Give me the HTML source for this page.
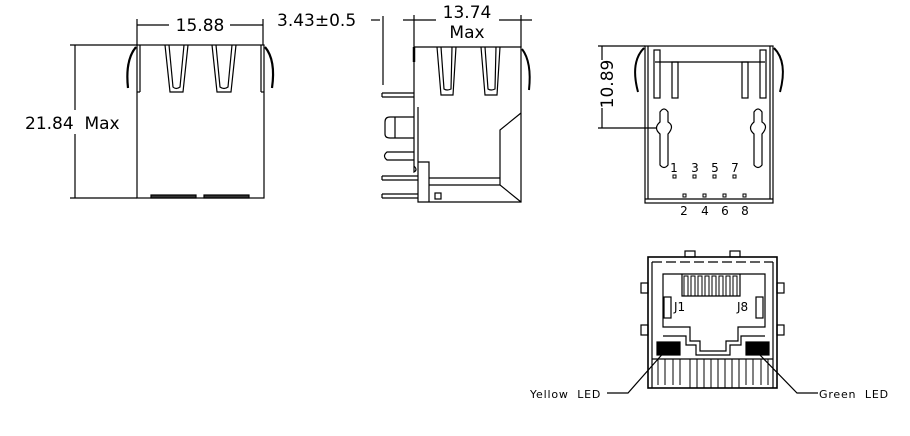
<!DOCTYPE html>
<html><head><meta charset="utf-8"><style>
html,body{margin:0;padding:0;background:#fff;}
svg{display:block;}
text{font-family:"DejaVu Sans","Liberation Sans",sans-serif;fill:#000;}
</style></head><body>
<svg width="910" height="436" viewBox="0 0 910 436" fill="none" stroke="#000" stroke-width="1.2">
<!-- View 1 -->
<text x="200" y="31" font-size="17" text-anchor="middle" stroke="none">15.88</text>
<line x1="137" y1="19" x2="137" y2="45"/><line x1="263" y1="19" x2="263" y2="45"/>
<line x1="137" y1="25" x2="169" y2="25"/><line x1="230" y1="25" x2="263" y2="25"/>
<line x1="70" y1="45" x2="137" y2="45"/><line x1="70" y1="198" x2="137" y2="198"/>
<line x1="75" y1="45" x2="75" y2="110"/><line x1="75" y1="134" x2="75" y2="198"/>
<text x="25" y="129" font-size="17" stroke="none" xml:space="preserve">21.84  Max</text>
<rect x="137" y="45" width="127" height="153"/>
<line x1="140" y1="45" x2="140" y2="92"/><line x1="261" y1="45" x2="261" y2="92"/>
<line x1="137" y1="92" x2="140" y2="92"/><line x1="261" y1="92" x2="264" y2="92"/>
<path d="M165 45 L170 92 L183 92 L188 45 M169 45 L173 87 Q176 90 180 87 L184 45"/>
<path d="M212 45 L217 92 L231 92 L236 45 M216 45 L220 87 Q224 90 228 87 L232 45"/>
<path d="M136 47 Q125 60 128 88" stroke-width="2.2"/>
<path d="M265 47 Q276 60 272 88" stroke-width="2.2"/>
<rect x="151" y="195" width="45" height="3" fill="#333"/><rect x="204" y="195" width="45" height="3" fill="#333"/>
<!-- View 2 -->
<text x="277" y="26" font-size="17" stroke="none">3.43±0.5</text>
<line x1="371" y1="20" x2="380" y2="20"/><line x1="383" y1="16" x2="383" y2="85"/>
<text x="467" y="18" font-size="17" text-anchor="middle" stroke="none">13.74</text>
<text x="467" y="38" font-size="17" text-anchor="middle" stroke="none">Max</text>
<line x1="403" y1="20" x2="436" y2="20"/><line x1="499" y1="20" x2="532" y2="20"/>
<line x1="414" y1="15" x2="414" y2="47"/><line x1="521" y1="15" x2="521" y2="47"/>
<path d="M414 47 L521 47 L521 202 L418 202 L418 107"/>
<line x1="414" y1="47" x2="414" y2="160"/>
<path d="M414 47 L414 62" stroke-width="2.5"/>
<path d="M437 47 L441 95 L453 95 L456 47 M441 47 L444 89 Q447 91 451 89 L452 47"/>
<path d="M481 47 L485 95 L497 95 L500 47 M485 47 L488 89 Q491 91 495 89 L496 47"/>
<path d="M522 49 Q532 62 529 90" stroke-width="2"/>
<path d="M382 93 L414 93 M382 97 L414 97 M382 93 L382 97"/>
<path d="M414 117 L390 117 Q385 117 385 122 L385 134 Q385 138 390 138 L414 138 M395 117 L395 138"/>
<path d="M414 152 L387 152 Q382 156 387 160 L414 160"/>
<path d="M414 160 L414 166 Q418 170 414 172 L414 165"/>
<path d="M418 162 L429 162 L429 202"/>
<path d="M382 176 L418 176 M382 180 L418 180 M382 194 L418 194 M382 198 L418 198 M382 176 L382 180 M382 194 L382 198"/>
<path d="M429 178 L500 178 M429 185 L500 185"/>
<path d="M521 113 L500 130 L500 185 L521 202"/>
<rect x="435" y="193" width="6" height="6"/>
<!-- View 3 -->
<rect x="645" y="46" width="128" height="157"/>
<line x1="648" y1="46" x2="648" y2="199"/><line x1="770" y1="46" x2="770" y2="199"/>
<line x1="645" y1="199" x2="773" y2="199"/>
<line x1="655" y1="62" x2="765" y2="62"/>
<rect x="654" y="50" width="6" height="48"/><rect x="672" y="62" width="6" height="36"/>
<rect x="742" y="62" width="6" height="36"/><rect x="760" y="50" width="6" height="48"/>
<path d="M660 112 Q664 106 668 112 L668 122 Q675 126 668 134 L668 165 Q664 170 660 165 L660 134 Q653 128 660 122 Z"/>
<path d="M754 112 Q758 106 762 112 L762 122 Q769 126 762 134 L762 165 Q758 170 754 165 L754 134 Q747 128 754 122 Z"/>
<path d="M644 48 Q630 62 638 92" stroke-width="2"/><path d="M774 48 Q788 62 780 92" stroke-width="2"/>
<line x1="598" y1="46" x2="645" y2="46"/><line x1="598" y1="128" x2="656" y2="128"/>
<line x1="602" y1="46" x2="602" y2="60"/><line x1="602" y1="108" x2="602" y2="128"/>
<text transform="translate(613,84) rotate(-90)" font-size="17" text-anchor="middle" stroke="none">10.89</text>
<g stroke="none" font-size="12" text-anchor="middle">
<text x="674" y="172">1</text><text x="695" y="172">3</text><text x="715" y="172">5</text><text x="735" y="172">7</text>
<text x="684" y="215">2</text><text x="705" y="215">4</text><text x="725" y="215">6</text><text x="745" y="215">8</text>
</g>
<g stroke-width="1">
<rect x="673" y="175" width="3" height="3"/><rect x="693" y="175" width="3" height="3"/><rect x="713" y="175" width="3" height="3"/><rect x="733" y="175" width="3" height="3"/>
<rect x="683" y="194" width="3" height="3"/><rect x="703" y="194" width="3" height="3"/><rect x="723" y="194" width="3" height="3"/><rect x="743" y="194" width="3" height="3"/>
</g>
<!-- View 4 -->
<rect x="648" y="257" width="129" height="131" stroke-width="1.6"/>
<line x1="652" y1="262" x2="652" y2="388"/><line x1="773" y1="262" x2="773" y2="388"/>
<line x1="652" y1="262" x2="773" y2="262" stroke-dasharray="10 4"/>
<rect x="685" y="251" width="10" height="6"/><rect x="730" y="251" width="10" height="6"/>
<rect x="641" y="283" width="7" height="10"/><rect x="641" y="325" width="7" height="10"/>
<rect x="777" y="283" width="7" height="10"/><rect x="777" y="325" width="7" height="10"/>
<path d="M663 327 L663 274 L765 274 L765 327 L738 327 L738 341 L726 341 L726 351 L700 351 L700 341 L690 341 L690 327 Z"/>
<path d="M663 336 L686 336 L686 345 L696 345 L696 355 L730 355 L730 345 L741 345 L741 336 L765 336"/>
<path d="M682 274 L682 296 L740 296 L740 274"/>
<g stroke-width="1"><rect x="684" y="276" width="4" height="20"/><rect x="691" y="276" width="4" height="20"/><rect x="698" y="276" width="4" height="20"/><rect x="705" y="276" width="4" height="20"/><rect x="712" y="276" width="4" height="20"/><rect x="719" y="276" width="4" height="20"/><rect x="726" y="276" width="4" height="20"/><rect x="733" y="276" width="4" height="20"/></g>
<rect x="664" y="297" width="7" height="21"/><rect x="756" y="297" width="7" height="21"/>
<text x="674" y="311" font-size="12" stroke="none">J1</text>
<text x="737" y="311" font-size="12" stroke="none">J8</text>
<rect x="657" y="342" width="23" height="13" fill="#000"/><rect x="746" y="342" width="23" height="13" fill="#000"/>
<line x1="652" y1="359" x2="773" y2="359"/>
<g stroke-width="1">
<path d="M658 359 L658 385 M665 359 L665 385 M673 359 L673 385 M680 359 L680 385 M690 359 L690 388 M697 359 L697 388 M704 359 L704 388 M711 359 L711 388 M718 359 L718 388 M725 359 L725 388 M732 359 L732 388 M739 359 L739 388 M746 359 L746 385 M753 359 L753 385 M761 359 L761 385 M768 359 L768 385"/>
</g>
<path d="M607 393 L628 393 L666 350"/>
<path d="M818 393 L797 393 L757 352"/>
<text x="530" y="398" font-size="11" letter-spacing="0.8" stroke="none" xml:space="preserve">Yellow  LED</text>
<text x="819" y="398" font-size="11" letter-spacing="0.8" stroke="none" xml:space="preserve">Green  LED</text>
</svg>
</body></html>
